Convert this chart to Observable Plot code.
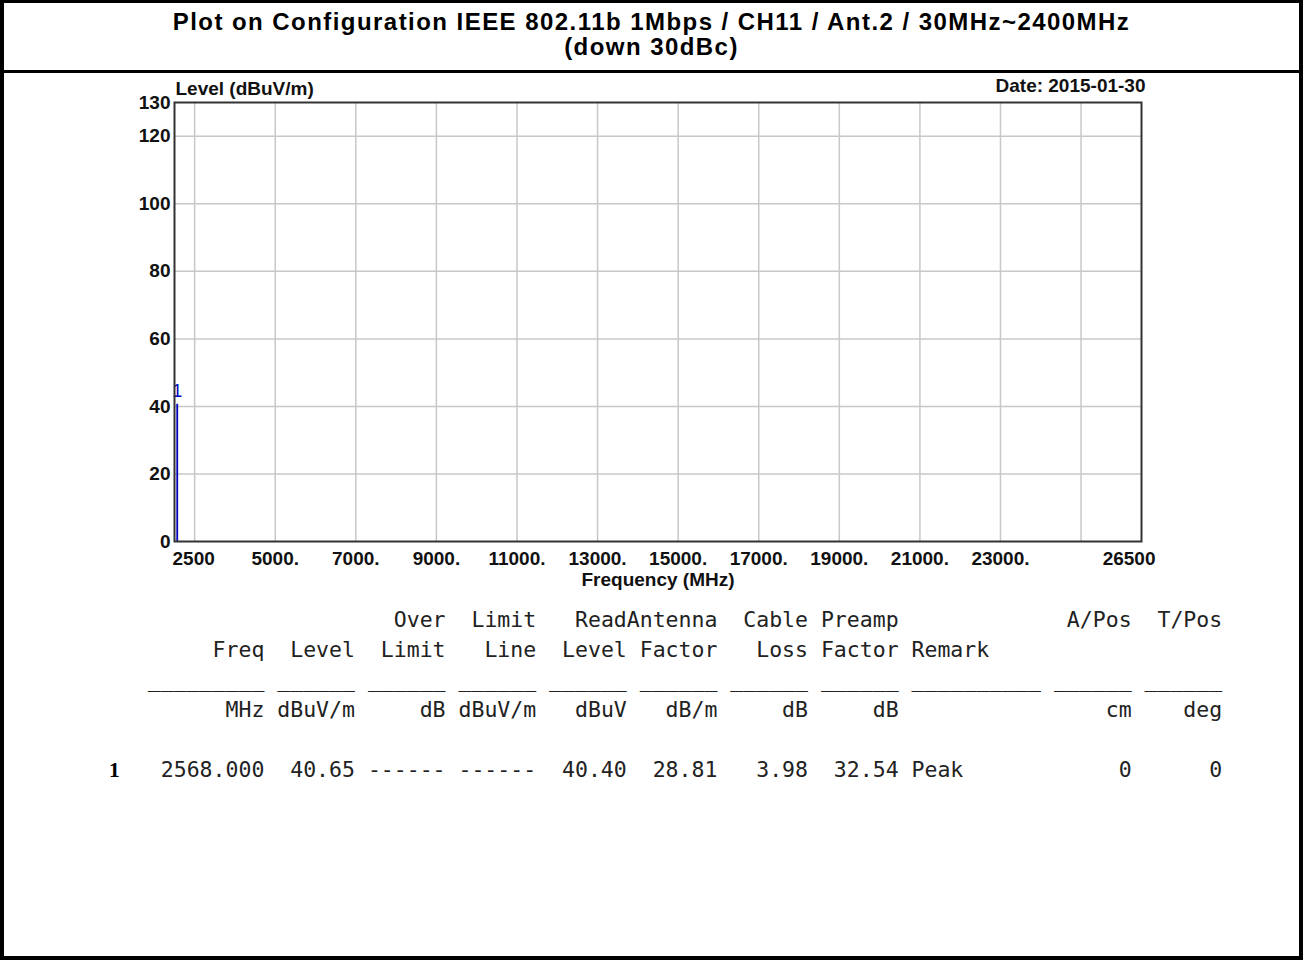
<!DOCTYPE html>
<html><head><meta charset="utf-8">
<script src="https://cdn.jsdelivr.net/npm/d3@7"></script>
<script src="https://cdn.jsdelivr.net/npm/@observablehq/plot@0.6"></script>
<style>
body{margin:0;background:#fff;}
#page{position:relative;width:1303px;height:960px;overflow:hidden;font-family:"Liberation Sans",Arial,sans-serif;background:#fff;}
#border{position:absolute;left:0;top:0;width:1303px;height:960px;box-sizing:border-box;border:4px solid #000;border-top-width:3px;pointer-events:none;}
#title{position:absolute;left:0;top:9px;width:1303px;text-align:center;font-weight:bold;font-size:24px;line-height:25px;letter-spacing:1.45px;color:#000;}
#rule{position:absolute;left:0;top:70px;width:1303px;height:3px;background:#000;}
#chart{position:absolute;left:0;top:74px;}
#table{position:absolute;left:109px;top:605px;margin:0;font-family:"DejaVu Sans Mono",monospace;font-size:21.5px;line-height:30px;color:#222;white-space:pre;}
.idx{display:inline-block;width:12.94px;font-family:"Liberation Serif",serif;font-weight:bold;color:#000;}
</style></head><body>
<div id="page">
  <div id="title">Plot on Configuration IEEE 802.11b 1Mbps / CH11 / Ant.2 / 30MHz~2400MHz<br>(down 30dBc)</div>
  <div id="rule"></div>
  <div id="chart"></div>
  <pre id="table"></pre>
  <div id="border"></div>
</div>
<script>
// ---- chart data ----
const xDomain = [2500, 26500];
const yDomain = [0, 130];
const yTicks = [0, 20, 40, 60, 80, 100, 120, 130];
const yGrid = [20, 40, 60, 80, 100, 120];
const xGrid = [3000, 5000, 7000, 9000, 11000, 13000, 15000, 17000, 19000, 21000, 23000, 25000];
const xLabels = [5000, 7000, 9000, 11000, 13000, 15000, 17000, 19000, 21000, 23000];
const xStartLabel = [2500];
const xEndLabel = [26500];
const xTitle = ["Frequency (MHz)"];
const yTitle = ["Level (dBuV/m)"];
const dateText = ["Date: 2015-01-30"];

// ---- marker / table data ----
const markerNo = [1];
const freq = [2568.000];
const level = [40.65];
const overLimit = [null];
const limitLine = [null];
const readLevel = [40.40];
const antennaFactor = [28.81];
const cableLoss = [3.98];
const preampFactor = [32.54];
const remark = ["Peak"];
const aPos = [0];
const tPos = [0];

const peaks = markerNo.map((n, i) => ({no: String(n), freq: freq[i], level: level[i]}));

const chart = Plot.plot({
  width: 1303,
  height: 530,
  marginLeft: 174,
  marginRight: 162,
  marginTop: 28,
  marginBottom: 63,
  x: {domain: xDomain, axis: null},
  y: {domain: yDomain, axis: null},
  style: {fontFamily: "'Liberation Sans', Arial, sans-serif", fontSize: "19px", fontWeight: "bold", color: "#000", background: "transparent"},
  marks: [
    Plot.gridY(yGrid, {stroke: "#c8c8c8", strokeOpacity: 1, strokeWidth: 1.5}),
    Plot.gridX(xGrid, {stroke: "#c8c8c8", strokeOpacity: 1, strokeWidth: 1.5}),
    Plot.ruleX(peaks, {x: "freq", y1: 0, y2: "level", stroke: "#0000c0", strokeWidth: 1.8}),
    Plot.text(peaks, {x: "freq", y: "level", text: "no", fill: "#0000c0", fontSize: 18, fontWeight: "normal", dy: -13, lineAnchor: "middle"}),
    Plot.frame({stroke: "#333", strokeWidth: 2}),
    Plot.axisY(yTicks, {anchor: "left", label: null, tickSize: 0, tickPadding: 4, fill: "#111"}),
    Plot.text(xLabels, {x: d => d, frameAnchor: "bottom", lineAnchor: "middle", dy: 17, text: d => d + ".", fill: "#111"}),
    Plot.text(xStartLabel, {x: d => d, frameAnchor: "bottom", lineAnchor: "middle", dy: 17, dx: -2, textAnchor: "start", text: d => String(d), fill: "#111"}),
    Plot.text(xEndLabel, {x: d => d, frameAnchor: "bottom", lineAnchor: "middle", dy: 17, dx: 14, textAnchor: "end", text: d => String(d), fill: "#111"}),
    Plot.text(xTitle, {frameAnchor: "bottom", lineAnchor: "middle", dy: 38, text: d => d, fill: "#111"}),
    Plot.text(yTitle, {frameAnchor: "top-left", lineAnchor: "middle", dy: -14, dx: 1, textAnchor: "start", text: d => d, fill: "#111"}),
    Plot.text(dateText, {frameAnchor: "top-right", lineAnchor: "middle", dy: -17, dx: 4, textAnchor: "end", text: d => d, fill: "#111"})
  ]
});
document.getElementById("chart").appendChild(chart);

// ---- table (monospace layout) ----
const LEN = 86;
function blank() { return Array(LEN).fill(" "); }
function putEnd(line, s, end) { for (let i = 0; i < s.length; i++) line[end - s.length + 1 + i] = s[i]; }
function putStart(line, s, start) { for (let i = 0; i < s.length; i++) line[start + i] = s[i]; }
const fields = [[3, 11], [13, 18], [20, 25], [27, 32], [34, 39], [41, 46], [48, 53], [55, 60], [62, 71], [73, 78], [80, 85]];

const h1 = blank();
[["Over", 25], ["Limit", 32], ["Read", 39], ["Antenna", 46], ["Cable", 53], ["Preamp", 60], ["A/Pos", 78], ["T/Pos", 85]].forEach(([s, e]) => putEnd(h1, s, e));
const h2 = blank();
[["Freq", 11], ["Level", 18], ["Limit", 25], ["Line", 32], ["Level", 39], ["Factor", 46], ["Loss", 53], ["Factor", 60]].forEach(([s, e]) => putEnd(h2, s, e));
putStart(h2, "Remark", 62);
const ul = blank();
fields.forEach(([a, b]) => { for (let i = a; i <= b; i++) ul[i] = "_"; });
const un = blank();
[["MHz", 11], ["dBuV/m", 18], ["dB", 25], ["dBuV/m", 32], ["dBuV", 39], ["dB/m", 46], ["dB", 53], ["dB", 60], ["cm", 78], ["deg", 85]].forEach(([s, e]) => putEnd(un, s, e));

const pre = document.getElementById("table");
const txt = s => document.createTextNode(s);
pre.appendChild(txt(h1.join("").replace(/\s+$/, "") + "\n"));
pre.appendChild(txt(h2.join("").replace(/\s+$/, "") + "\n"));
pre.appendChild(txt(ul.join("").replace(/\s+$/, "") + "\n"));
pre.appendChild(txt(un.join("").replace(/\s+$/, "") + "\n"));
pre.appendChild(txt("\n"));
markerNo.forEach((n, i) => {
  const r = blank();
  const f2 = v => v == null ? "------" : v.toFixed(2);
  putEnd(r, freq[i].toFixed(3), 11);
  putEnd(r, f2(level[i]), 18);
  putEnd(r, f2(overLimit[i]), 25);
  putEnd(r, f2(limitLine[i]), 32);
  putEnd(r, f2(readLevel[i]), 39);
  putEnd(r, f2(antennaFactor[i]), 46);
  putEnd(r, f2(cableLoss[i]), 53);
  putEnd(r, f2(preampFactor[i]), 60);
  putStart(r, remark[i], 62);
  putEnd(r, String(aPos[i]), 78);
  putEnd(r, String(tPos[i]), 85);
  const span = document.createElement("span");
  span.className = "idx";
  span.textContent = String(n);
  pre.appendChild(span);
  pre.appendChild(txt(r.join("").slice(1).replace(/\s+$/, "") + "\n"));
});
</script>
</body></html>
